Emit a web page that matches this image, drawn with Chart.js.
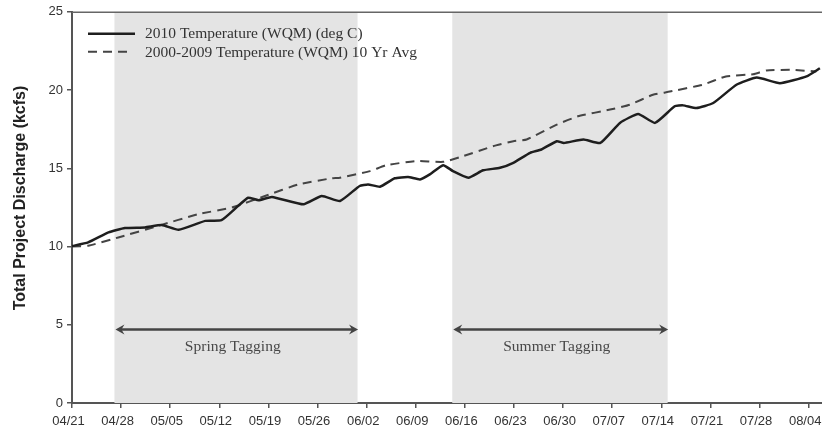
<!DOCTYPE html>
<html><head><meta charset="utf-8">
<script src="https://cdn.jsdelivr.net/npm/chart.js@4/dist/chart.umd.min.js"></script>
<style>html,body{margin:0;padding:0;background:#fff;overflow:hidden}</style>
</head><body>
<canvas id="c" width="822" height="434"></canvas>
<script>
// ---- data ----
const tickLabels = ['04/21','04/28','05/05','05/12','05/19','05/26','06/02','06/09','06/16','06/23','06/30','07/07','07/14','07/21','07/28','08/04'];
const yTicks = [0,5,10,15,20,25];
const seriesNames = ['2010 Temperature (WQM) (deg C)','2000-2009 Temperature (WQM) 10 Yr Avg'];
const yTitle = 'Total Project Discharge (kcfs)';
// day offsets from 04/21
const obsDays = [0,2.3,5.2,7.55,10.4,12.8,15.2,19.0,21.3,23.7,25.1,26.6,28.5,33.0,35.6,38.2,41.0,42.2,43.9,46.0,47.9,49.6,51.0,52.9,54.3,56.5,58.6,61.0,62.9,65.3,66.9,69.1,70.1,72.9,75.3,78.1,80.7,83.1,85.9,87.1,89.0,91.4,94.7,97.6,100.9,104.7,106.6];
const obsValues = [10.03,10.26,10.9,11.18,11.22,11.37,11.07,11.64,11.68,12.6,13.12,12.96,13.17,12.7,13.23,12.91,13.87,13.97,13.82,14.36,14.44,14.29,14.61,15.2,14.82,14.4,14.87,15.03,15.35,15.99,16.2,16.73,16.62,16.84,16.62,17.9,18.47,17.9,18.96,19.02,18.85,19.17,20.34,20.8,20.44,20.87,21.39];
const avgDays = [0,2.3,6.6,12.3,18.0,22.8,27.5,32.3,37.0,38.2,42.5,44.8,49.1,52.9,55.8,60.0,62.9,64.8,69.1,72.1,76.7,79.5,82.8,85.2,89.9,93.2,97.1,99.0,102.8,106.1];
const avgValues = [10.0,10.05,10.58,11.32,12.07,12.49,13.23,13.97,14.36,14.4,14.82,15.2,15.46,15.41,15.78,16.41,16.73,16.84,17.79,18.32,18.75,19.06,19.7,19.9,20.34,20.87,21.01,21.25,21.29,21.18];
const periodNames = ['Spring Tagging','Summer Tagging'];
const periodStart = [6.05,54.2];
const periodEnd = [40.7,84.9];

// ---- plugin ----
const deco = {
  id:'deco',
  beforeDatasetsDraw(chart){
    const {ctx, chartArea:a, scales:{x}} = chart;
    ctx.save();
    ctx.fillStyle = '#e4e4e4';
    for (let i=0;i<periodStart.length;i++){
      const x1 = x.getPixelForValue(periodStart[i]), x2 = x.getPixelForValue(periodEnd[i]);
      ctx.fillRect(x1, a.top, x2-x1, a.bottom-a.top);
    }
    ctx.restore();
  },
  afterDatasetsDraw(chart){
    const {ctx, chartArea:a, scales:{x,y}} = chart;
    ctx.save();
    // top border
    ctx.strokeStyle = '#666'; ctx.lineWidth = 1.5;
    ctx.beginPath(); ctx.moveTo(a.left, a.top+0.5); ctx.lineTo(a.right, a.top+0.5); ctx.stroke();
    // arrows & labels
    const ay = y.getPixelForValue(4.7), ly = y.getPixelForValue(3.56);
    for (let i=0;i<periodStart.length;i++){
      const x1 = x.getPixelForValue(periodStart[i])+1, x2 = x.getPixelForValue(periodEnd[i])+0.5;
      ctx.strokeStyle = '#444'; ctx.fillStyle = '#444'; ctx.lineWidth = 2.5;
      ctx.beginPath(); ctx.moveTo(x1+3, ay); ctx.lineTo(x2-3, ay); ctx.stroke();
      ctx.beginPath(); ctx.moveTo(x1, ay); ctx.lineTo(x1+9, ay-5); ctx.lineTo(x1+6, ay); ctx.lineTo(x1+9, ay+5); ctx.closePath(); ctx.fill();
      ctx.beginPath(); ctx.moveTo(x2, ay); ctx.lineTo(x2-9, ay-5); ctx.lineTo(x2-6, ay); ctx.lineTo(x2-9, ay+5); ctx.closePath(); ctx.fill();
      ctx.fillStyle = '#484848'; ctx.font = '15.5px "Liberation Serif"'; ctx.textAlign='center'; ctx.textBaseline='middle';
      ctx.fillText(periodNames[i], (x1+x2)/2 - 4, ly);
    }
    // legend
    const lx = a.left + 16, l1 = a.top + 22, l2 = a.top + 40;
    ctx.strokeStyle = '#1e1e1e'; ctx.lineWidth = 2.5; ctx.setLineDash([]);
    ctx.beginPath(); ctx.moveTo(lx, l1); ctx.lineTo(lx+47, l1); ctx.stroke();
    ctx.strokeStyle = '#444'; ctx.lineWidth = 2; ctx.setLineDash([9,6]);
    ctx.beginPath(); ctx.moveTo(lx, l2); ctx.lineTo(lx+42, l2); ctx.stroke();
    ctx.setLineDash([]);
    ctx.fillStyle = '#333'; ctx.font = '15.5px "Liberation Serif"'; ctx.textAlign='left'; ctx.textBaseline='middle';
    ctx.fillText(seriesNames[0], lx+57, l1);
    ctx.fillText(seriesNames[1], lx+57, l2+1);
    // y title
    ctx.save();
    ctx.translate(21, 198); ctx.rotate(-Math.PI/2);
    ctx.fillStyle = '#222'; ctx.font = 'bold 16px "Liberation Sans"'; ctx.textAlign='center'; ctx.textBaseline='middle';
    ctx.fillText(yTitle, 0, 0);
    ctx.restore();
    ctx.restore();
  }
};

new Chart(document.getElementById('c'), {
  type:'line',
  data:{datasets:[
    {label:seriesNames[0], data:obsDays.map((d,i)=>({x:d,y:obsValues[i]})), borderColor:'#1e1e1e', borderWidth:2.5, pointRadius:0, tension:0.15, fill:false},
    {label:seriesNames[1], data:avgDays.map((d,i)=>({x:d,y:avgValues[i]})), borderColor:'#444', borderWidth:2, borderDash:[9,6], pointRadius:0, tension:0.15, fill:false}
  ]},
  options:{
    responsive:false, animation:false, events:[],
    layout:{padding:{top:10,right:0,left:0,bottom:0}},
    plugins:{legend:{display:false}, tooltip:{enabled:false}},
    scales:{
      x:{type:'linear', min:0, max:106.9,
        afterBuildTicks:s=>{ s.ticks = tickLabels.map((t,i)=>({value:i*7})); },
        ticks:{callback:v=>tickLabels[Math.round(v/7)], font:{family:'Liberation Sans', size:13}, color:'#333', padding:6, labelOffset:-3.5, maxRotation:0, autoSkip:false},
        grid:{drawOnChartArea:false, tickLength:5, color:'#555', lineWidth:1.5},
        border:{color:'#555', width:2},
        afterFit:s=>{ s.height = 31; s.paddingLeft = 0; s.paddingRight = 0; }
      },
      y:{min:0, max:25,
        afterBuildTicks:s=>{ s.ticks = yTicks.map(v=>({value:v})); },
        ticks:{font:{family:'Liberation Sans', size:13}, color:'#333', padding:4},
        grid:{drawOnChartArea:false, tickLength:5, color:'#555', lineWidth:1.5},
        border:{color:'#555', width:2},
        afterFit:s=>{ s.width = 72; }
      }
    }
  },
  plugins:[deco]
});
</script>
</body></html>
